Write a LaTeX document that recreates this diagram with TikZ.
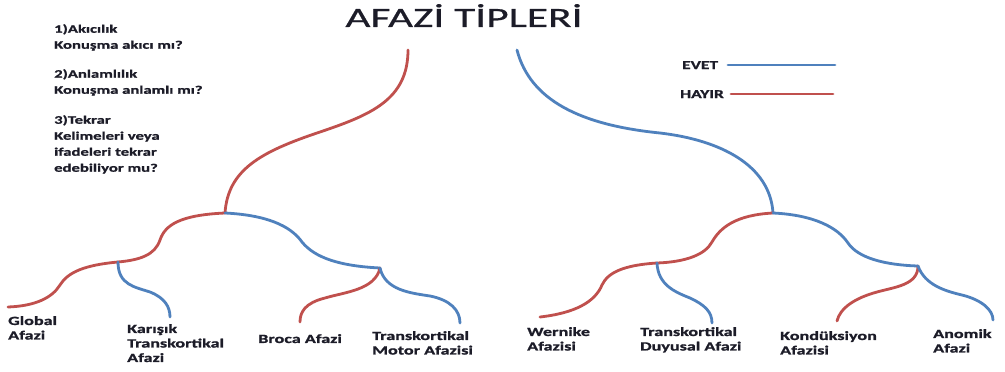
\documentclass[tikz,border=0pt]{standalone}
\usepackage{fontspec}
\newfontfamily\lblfont{Carlito}[FakeStretch=1.45,BoldFeatures={FakeBold=1.2}]
\newfontfamily\titlefont{Carlito}[FakeStretch=1.55,FakeBold=0.6]
\definecolor{yescol}{RGB}{79,129,189}
\definecolor{nocol}{RGB}{192,80,77}
\definecolor{txtcol}{RGB}{28,28,40}
\begin{document}
\begin{tikzpicture}[x=1pt,y=-1pt,
  yes/.style={draw=yescol,line width=2.8pt,line cap=round},
  no/.style={draw=nocol,line width=2.8pt,line cap=round},
  lbl/.style={anchor=north west,inner sep=0pt,align=left,text=txtcol,
    font=\lblfont\bfseries\fontsize{12.5}{14.5}\selectfont},
  qtxt/.style={anchor=north west,inner sep=0pt,align=left,text=txtcol,
    font=\lblfont\bfseries\fontsize{11.5}{16}\selectfont},
  leg/.style={anchor=base west,inner sep=0pt,text=txtcol,
    font=\lblfont\bfseries\fontsize{12}{14}\selectfont}]
\useasboundingbox[fill=white] (0,0) rectangle (1005,372);

% title
\node[anchor=base,inner sep=0pt,text=txtcol,font=\titlefont\fontsize{28}{32}\selectfont] (title) at (464,27) {AFAZİ TİPLERİ};

% questions
\node[qtxt] (q1) at (54,24) {1)Akıcılık\\Konuşma akıcı mı?};
\node[qtxt] (q2) at (54,69) {2)Anlamlılık\\Konuşma anlamlı mı?};
\node[qtxt] (q3) at (54,115) {3)Tekrar\\Kelimeleri veya\\ifadeleri tekrar\\edebiliyor mu?};

% legend
\node[leg] (evet) at (682,69) {EVET};
\node[leg] (hayir) at (680,98) {HAYIR};
\coordinate (evetS) at (728,65); \coordinate (evetE) at (835,65);
\coordinate (hayirS) at (731,94); \coordinate (hayirE) at (833,94);
\draw[yes] (evetS) -- (evetE);
\draw[no] (hayirS) -- (hayirE);

% junctions and ends
\coordinate (rootNo) at (408,50);
\coordinate (rootYes) at (517,50);
\coordinate (A) at (225,213);
\coordinate (B) at (118,262);
\coordinate (C) at (380,268);
\coordinate (D) at (773,213);
\coordinate (E) at (657,263);
\coordinate (F) at (918,266);
\coordinate (eGlobal) at (8,307);
\coordinate (eKarisik) at (170,317);
\coordinate (eBroca) at (300,322);
\coordinate (eMotor) at (460,323);
\coordinate (eWernike) at (540,317);
\coordinate (eDuyusal) at (712,323);
\coordinate (eKond) at (837,321);
\coordinate (eAnomik) at (993,320);

% left tree
\draw[no] (rootNo) .. controls (408,100) and (370,115) .. (320,132)
  .. controls (260,152) and (228,170) .. (A);
\draw[no] (A) .. controls (180,215) and (165,225) .. (160,240)
  .. controls (155,255) and (140,260) .. (B);
\draw[no] (B) .. controls (85,265) and (68,272) .. (60,285)
  .. controls (52,298) and (35,306) .. (eGlobal);
\draw[yes] (B) .. controls (118,285) and (135,287) .. (150,292)
  .. controls (165,298) and (170,307) .. (eKarisik);
\draw[yes] (A) .. controls (265,215) and (290,225) .. (302,242)
  .. controls (315,258) and (340,266) .. (C);
\draw[no] (C) .. controls (375,290) and (345,292) .. (325,298)
  .. controls (305,303) and (300,312) .. (eBroca);
\draw[yes] (C) .. controls (385,290) and (410,293) .. (430,296)
  .. controls (450,300) and (460,310) .. (eMotor);

% right tree
\draw[yes] (rootYes) .. controls (530,100) and (580,125) .. (660,133)
  .. controls (720,140) and (770,165) .. (D);
\draw[no] (D) .. controls (735,215) and (720,228) .. (712,242)
  .. controls (705,255) and (685,262) .. (E);
\draw[no] (E) .. controls (625,265) and (608,272) .. (602,285)
  .. controls (595,302) and (575,313) .. (eWernike);
\draw[yes] (E) .. controls (658,285) and (675,292) .. (690,298)
  .. controls (705,305) and (712,312) .. (eDuyusal);
\draw[yes] (D) .. controls (815,215) and (838,228) .. (848,243)
  .. controls (858,258) and (885,265) .. (F);
\draw[no] (F) .. controls (918,285) and (895,287) .. (877,292)
  .. controls (855,298) and (840,308) .. (eKond);
\draw[yes] (F) .. controls (925,285) and (945,291) .. (962,295)
  .. controls (982,300) and (993,310) .. (eAnomik);

% labels
\node[lbl] (global) at (8,316) {Global\\Afazi};
\node[lbl] (karisik) at (127,324) {Karışık\\Transkortikal\\Afazi};
\node[lbl] (broca) at (258,334) {Broca Afazi};
\node[lbl] (motor) at (372,331) {Transkortikal\\Motor Afazisi};
\node[lbl] (wernike) at (527,327) {Wernike\\Afazisi};
\node[lbl] (duyusal) at (640,327) {Transkortikal\\Duyusal Afazi};
\node[lbl] (kond) at (780,331) {Kondüksiyon\\Afazisi};
\node[lbl] (anomik) at (933,329) {Anomik\\Afazi};
\end{tikzpicture}
\end{document}
